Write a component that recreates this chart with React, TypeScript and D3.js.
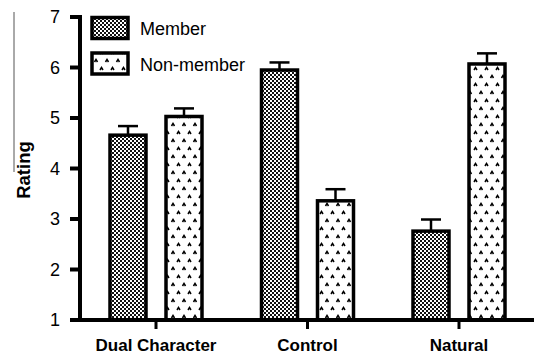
import React from "react";
import * as d3 from "d3";

// Group labels along the x axis
const groups = ["Dual Character", "Control", "Natural"];
// Series names (legend order)
const series = ["Member", "Non-member"];
// Mean ratings per group
const memberMeans = [4.66, 5.95, 2.76];
const nonMemberMeans = [5.03, 3.36, 6.07];
// Upper error (mean + SE)
const memberUpper = [4.84, 6.1, 2.99];
const nonMemberUpper = [5.19, 3.59, 6.28];
// Y tick labels
const yTicks = [1, 2, 3, 4, 5, 6, 7];

const W = 534;
const H = 354;
const FONT = "'Liberation Sans', Arial, Helvetica, sans-serif";

export default function App() {
  const y = d3.scaleLinear().domain([1, 7]).range([320, 17]);
  const x = d3.scaleBand<string>().domain(groups).range([80.25, 534.75]).padding(0);
  const inner = d3
    .scaleBand<string>()
    .domain(series)
    .range([-46, 46])
    .paddingInner(20 / 56)
    .paddingOuter(0);

  const values = [memberMeans, nonMemberMeans];
  const uppers = [memberUpper, nonMemberUpper];
  const fills = ["url(#checker)", "url(#chevrons)"];

  const bars = groups.flatMap((g, gi) =>
    series.map((s, si) => {
      const cx = (x(g) as number) + x.bandwidth() / 2;
      const bx = cx + (inner(s) as number);
      return { g, s, si, bx, v: values[si][gi], up: uppers[si][gi] };
    })
  );

  return (
    <svg width={W} height={H} style={{ display: "block", position: "absolute", left: 0, top: 0 }}>
      <defs>
        <pattern id="checker" width={4} height={4} patternUnits="userSpaceOnUse">
          <rect width={4} height={4} fill="#fff" />
          <rect x={0} y={0} width={2} height={2} fill="#111" />
          <rect x={2} y={2} width={2} height={2} fill="#111" />
        </pattern>
        <pattern id="chevrons" width={11} height={16} patternUnits="userSpaceOnUse">
          <rect width={11} height={16} fill="#fff" />
          <path d="M1,6 L2.5,3.5 L4,6" fill="none" stroke="#000" strokeWidth={1.5} />
          <path d="M6.5,14 L8,11.5 L9.5,14" fill="none" stroke="#000" strokeWidth={1.5} />
        </pattern>
      </defs>

      {/* thin rule at far left */}
      <line x1={14} x2={14} y1={12} y2={172} stroke="#555" strokeWidth={1} />

      {/* y axis title */}
      <text
        transform={`translate(30,170) rotate(-90)`}
        textAnchor="middle"
        fontFamily={FONT}
        fontWeight="bold"
        fontSize={18.5}
        fill="#000"
      >
        Rating
      </text>

      {/* bars */}
      {bars.map((b) => (
        <rect
          key={`${b.g}-${b.s}`}
          x={b.bx}
          y={y(b.v)}
          width={inner.bandwidth()}
          height={y(1) - y(b.v)}
          fill={fills[b.si]}
          stroke="#000"
          strokeWidth={3.5}
        />
      ))}

      {/* error bars */}
      {bars.map((b) => {
        const cx = b.bx + inner.bandwidth() / 2;
        return (
          <g key={`err-${b.g}-${b.s}`} stroke="#000" strokeWidth={2.5}>
            <line x1={cx} x2={cx} y1={y(b.v)} y2={y(b.up)} />
            <line x1={cx - 10} x2={cx + 10} y1={y(b.up)} y2={y(b.up)} />
          </g>
        );
      })}

      {/* y axis */}
      <line x1={80} x2={80} y1={y(7) - 2} y2={y(1) + 2} stroke="#000" strokeWidth={4} />
      {yTicks.map((t) => (
        <g key={`yt-${t}`}>
          <line x1={70} x2={80} y1={y(t)} y2={y(t)} stroke="#000" strokeWidth={4} />
          <text
            x={60}
            y={y(t)}
            dy="0.36em"
            textAnchor="end"
            fontFamily={FONT}
            fontSize={18}
            fill="#000"
          >
            {t}
          </text>
        </g>
      ))}

      {/* x axis */}
      <line x1={78} x2={W} y1={y(1)} y2={y(1)} stroke="#000" strokeWidth={4} />
      {groups.map((g) => {
        const cx = (x(g) as number) + x.bandwidth() / 2;
        return (
          <g key={`xt-${g}`}>
            <line x1={cx} x2={cx} y1={y(1)} y2={y(1) + 9} stroke="#000" strokeWidth={3} />
            <text
              x={cx}
              y={351}
              textAnchor="middle"
              fontFamily={FONT}
              fontWeight="bold"
              fontSize={17}
              fill="#000"
            >
              {g}
            </text>
          </g>
        );
      })}

      {/* legend */}
      {series.map((s, si) => (
        <g key={`lg-${s}`}>
          <rect
            x={92}
            y={17.5 + si * 35.5}
            width={36}
            height={21}
            fill={fills[si]}
            stroke="#000"
            strokeWidth={3.5}
          />
          <text x={140} y={35 + si * 35.5} fontFamily={FONT} fontSize={18} fill="#000">
            {s}
          </text>
        </g>
      ))}
    </svg>
  );
}
